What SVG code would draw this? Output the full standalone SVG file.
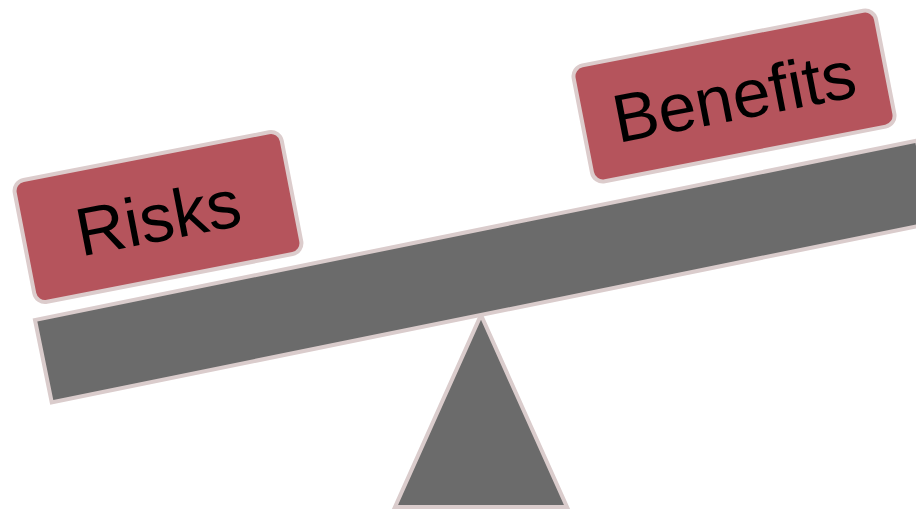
<svg xmlns="http://www.w3.org/2000/svg" width="916" height="510" viewBox="0 0 916 510">
<style>
.part{fill:#6b6b6b;stroke:#dacccc;stroke-width:4;stroke-linejoin:miter}
.box{fill:#b5545c;stroke:#dccccc;stroke-width:4}
.lbl{font-family:"Liberation Sans",Arial,sans-serif;font-size:68px;fill:#000;text-anchor:middle}
</style>
<g id="fulcrum"><polygon class="part" points="481,315 567,507 395,507"/></g>
<g id="beam"><rect class="part" x="0" y="0" width="900" height="84" transform="translate(35 320) rotate(-11.5)"/></g>
<g id="risks" transform="rotate(-11 158 217)">
<rect class="box" x="22" y="155" width="272" height="124" rx="11"/>
<text class="lbl" x="158" y="241">Risks</text>
</g>
<g id="benefits" transform="rotate(-11 734 96)">
<rect class="box" x="580" y="37" width="308" height="118" rx="11"/>
<text class="lbl" x="734" y="120">Benefits</text>
</g>
</svg>
